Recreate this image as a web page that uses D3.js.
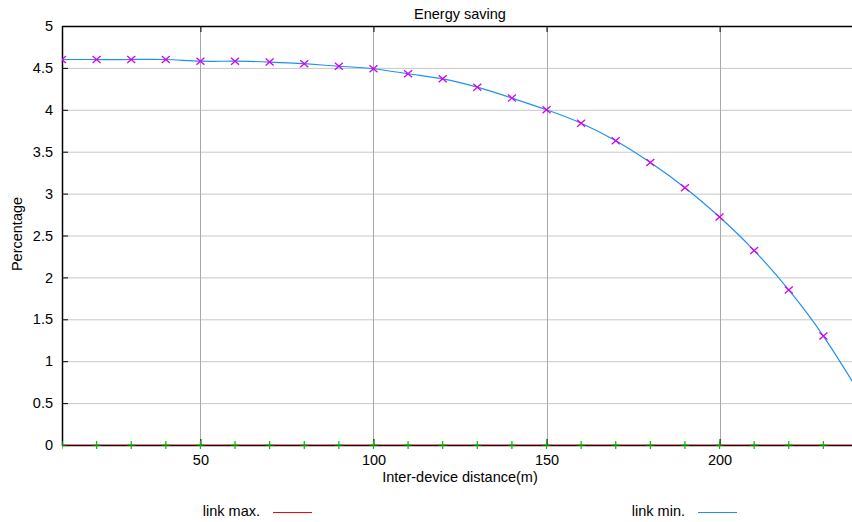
<!DOCTYPE html>
<html><head><meta charset="utf-8">
<script src="https://cdn.jsdelivr.net/npm/d3@7"></script>
<style>body{margin:0;background:#fff}svg{display:block;font-family:"Liberation Sans",Arial,sans-serif}</style>
</head><body><svg id="c" width="852" height="522"></svg>
<script>
const distances = [10,20,30,40,50,60,70,80,90,100,110,120,130,140,150,160,170,180,190,200,210,220,230,240];
const linkMax = distances.map(() => 0);
const linkMin = [4.6,4.6,4.6,4.6,4.58,4.58,4.57,4.55,4.52,4.49,4.43,4.37,4.27,4.14,4.0,3.84,3.63,3.37,3.07,2.72,2.32,1.85,1.30,0.65];
const xTicks = [50,100,150,200];
const yTicks = [0,0.5,1,1.5,2,2.5,3,3.5,4,4.5,5];
const title = "Energy saving", xLabel = "Inter-device distance(m)", yLabel = "Percentage";
const legendNames = ["link max.", "link min."];

const svg = d3.select("#c");
const L = 62, R = 858, T = 26, B = 445;
const FS = 14.5;
const tf = "Liberation Sans, Arial, sans-serif";
const x = d3.scaleLinear().domain([10,240]).range([L,R]);
const y = d3.scaleLinear().domain([0,5]).range([B,T]);

svg.append("rect").attr("width",852).attr("height",522).attr("fill","#fff");
svg.append("clipPath").attr("id","pc").append("rect").attr("x",L).attr("y",T-5).attr("width",R-L).attr("height",B-T+10);

// grid
svg.append("g").selectAll("line").data(yTicks.filter(d=>d>0&&d<5)).join("line")
  .attr("x1",L).attr("x2",R).attr("y1",d=>y(d)+0.5).attr("y2",d=>y(d)+0.5)
  .attr("stroke","#c8c8c8").attr("stroke-width",1);
svg.append("g").selectAll("line").data(xTicks).join("line")
  .attr("y1",T).attr("y2",B).attr("x1",d=>Math.round(x(d))+0.5).attr("x2",d=>Math.round(x(d))+0.5)
  .attr("stroke","#a8a8a8").attr("stroke-width",1);

// axes with inward ticks
const yAxis = d3.axisLeft(y).tickValues(yTicks).tickSize(-6).tickPadding(9).tickFormat(d=>d3.format("~g")(d));
const gy = svg.append("g").attr("transform",`translate(${L},0)`).call(yAxis);
const xAxis = d3.axisBottom(x).tickValues(xTicks).tickSize(-6).tickPadding(9).tickFormat(d3.format("d"));
const gx = svg.append("g").attr("transform",`translate(0,${B})`).call(xAxis);
const gxt = svg.append("g").attr("transform",`translate(0,${T})`).call(d3.axisTop(x).tickValues(xTicks).tickSize(-6).tickFormat(""));
[gy,gx,gxt].forEach(g=>{
  g.select(".domain").remove();
  g.selectAll(".tick line").attr("stroke","#000");
  g.selectAll("text").attr("font-size",FS).attr("fill","#000").attr("font-family",tf);
});
gx.selectAll("text").attr("y",20).attr("dy",null);

// border
svg.append("line").attr("x1",L+0.5).attr("x2",L+0.5).attr("y1",T).attr("y2",B+1).attr("stroke","#000").attr("stroke-width",1.5);
svg.append("line").attr("x1",L).attr("x2",R).attr("y1",T+0.5).attr("y2",T+0.5).attr("stroke","#000").attr("stroke-width",1.5);
svg.append("line").attr("x1",L).attr("x2",R).attr("y1",B+0.5).attr("y2",B+0.5).attr("stroke","#000").attr("stroke-width",1.5);

const plot = svg.append("g").attr("clip-path","url(#pc)");
// link max line (red)
plot.append("path").datum(distances.map((d,i)=>[d,linkMax[i]]))
  .attr("d",d3.line().x(d=>x(d[0])).y(d=>y(d[1])).curve(d3.curveNatural))
  .attr("fill","none").attr("stroke","#e00000").attr("stroke-opacity",0.55).attr("stroke-width",1);
// link max points (green +)
plot.append("g").selectAll("path").data(distances.map((d,i)=>[d,linkMax[i]])).join("path")
  .attr("transform",d=>`translate(${x(d[0])},${y(d[1])})`)
  .attr("d","M-4,0H4M0,-4V4").attr("stroke","#00c000").attr("stroke-width",1.2).attr("fill","none");
// link min line (blue)
plot.append("path").datum(distances.map((d,i)=>[d,linkMin[i]]))
  .attr("d",d3.line().x(d=>x(d[0])).y(d=>y(d[1])).curve(d3.curveNatural))
  .attr("fill","none").attr("stroke","#2090f0").attr("stroke-width",1.2);
// link min points (magenta x)
plot.append("g").selectAll("path").data(distances.map((d,i)=>[d,linkMin[i]])).join("path")
  .attr("transform",d=>`translate(${x(d[0])},${y(d[1])})`)
  .attr("d","M-4,-3.5L4,3.5M-4,3.5L4,-3.5").attr("stroke","#d400f0").attr("stroke-width",1.3).attr("fill","none");

// texts
svg.append("text").attr("x",(L+R)/2).attr("y",19).attr("text-anchor","middle").attr("font-size",FS).attr("font-family",tf).text(title);
svg.append("text").attr("x",(L+R)/2).attr("y",482).attr("text-anchor","middle").attr("font-size",FS).attr("font-family",tf).text(xLabel);
svg.append("text").attr("transform","translate(22,234) rotate(-90)").attr("text-anchor","middle").attr("font-size",FS).attr("font-family",tf).text(yLabel);

// legend
const leg = [{name:legendNames[0],tx:260,x1:273,x2:312,color:"#ff0000"},{name:legendNames[1],tx:685,x1:698,x2:737,color:"#2090f0"}];
leg.forEach(l=>{
  svg.append("text").attr("x",l.tx).attr("y",516).attr("text-anchor","end").attr("font-size",FS).attr("font-family",tf).text(l.name);
  svg.append("line").attr("x1",l.x1).attr("x2",l.x2).attr("y1",512.5).attr("y2",512.5).attr("stroke",l.color).attr("stroke-width",1);
});
</script></body></html>
